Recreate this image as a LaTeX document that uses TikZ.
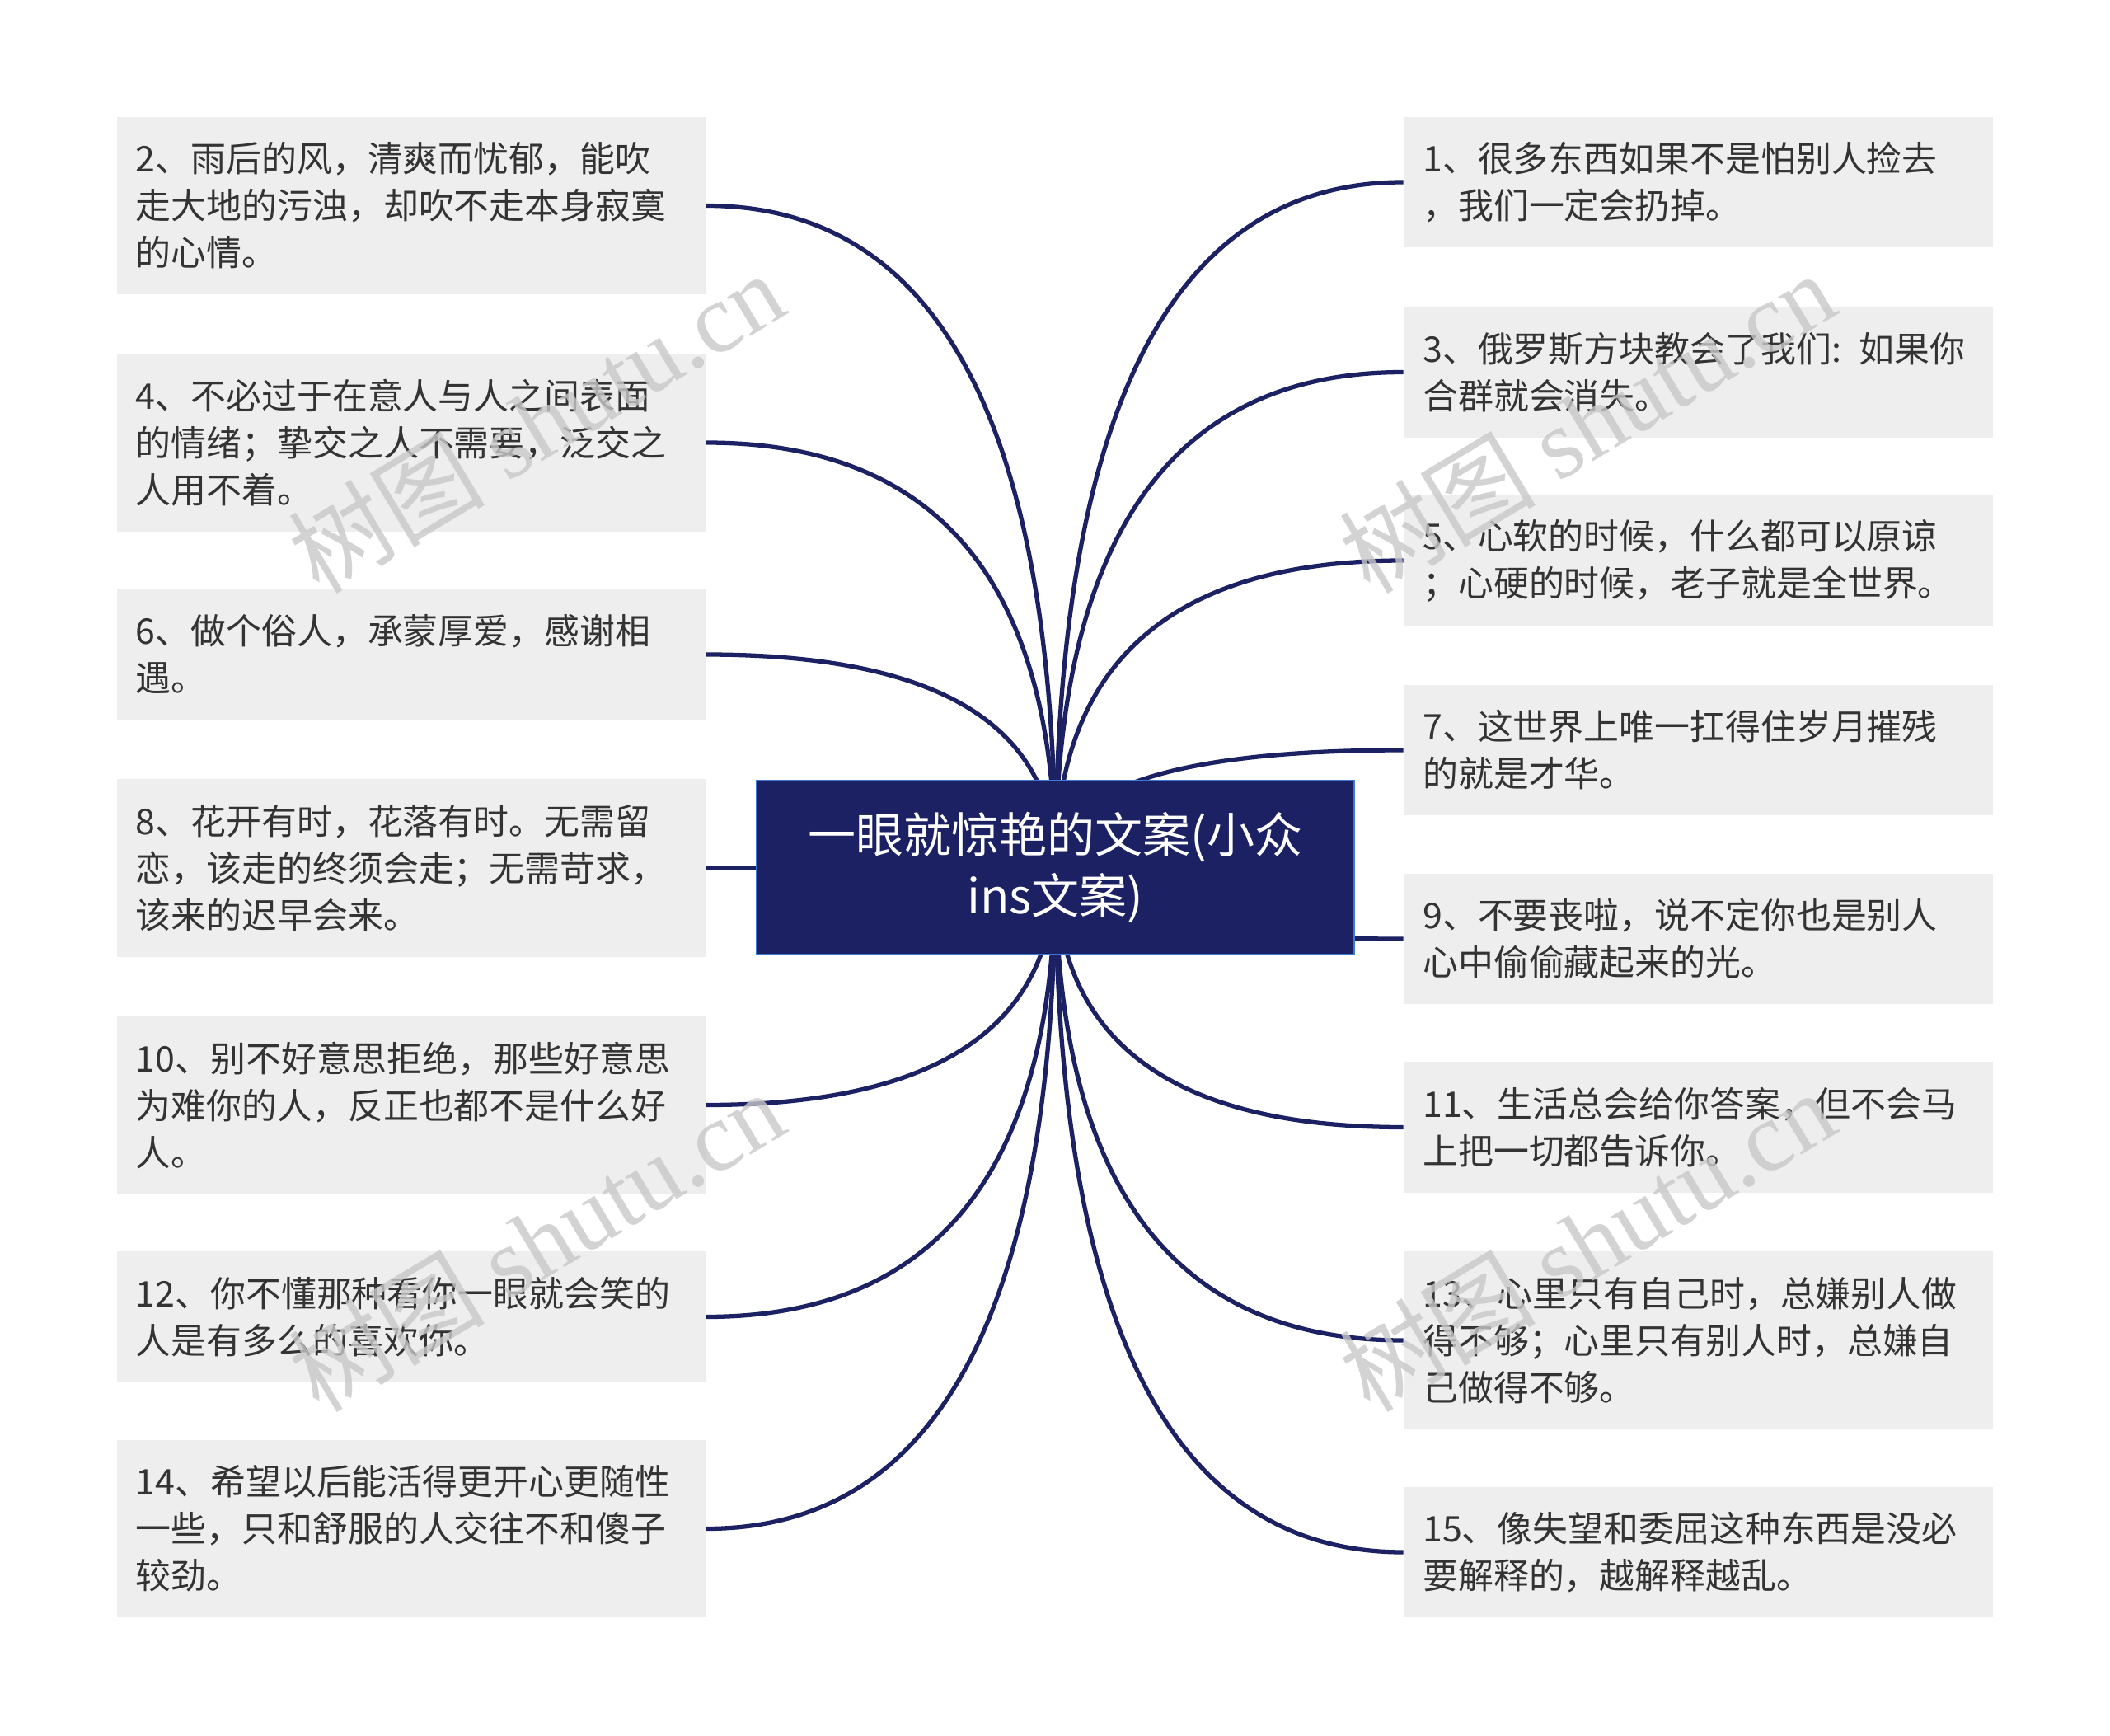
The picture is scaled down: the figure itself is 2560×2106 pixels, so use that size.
\documentclass[tikz,border=0pt]{standalone}
\usepackage{fontspec}
\setmainfont{Noto Sans CJK SC}
\newfontfamily\wmlatin{Liberation Serif}
\usetikzlibrary{calc,backgrounds}
\definecolor{navy}{HTML}{1B2163}
\definecolor{rootborder}{HTML}{3D78D8}
\definecolor{boxfill}{HTML}{EEEEEE}
\definecolor{txt}{HTML}{333333}
\definecolor{wmgray}{HTML}{C8C8C8}
\tikzset{
  leaf/.style={fill=boxfill, text=txt, text width=6.68cm, align=left,
    inner xsep=0.23cm, inner ysep=0pt, anchor=center,
    font=\fontsize{12.2pt}{16.2pt}\selectfont},
  tall/.style={minimum height=2.15cm},
  short/.style={minimum height=1.58cm},
  rootbox/.style={fill=navy, draw=rootborder, line width=0.7pt, text=white,
    minimum width=7.25cm, minimum height=2.11cm, align=center,
    font=\fontsize{16.5pt}{21.3pt}\selectfont},
  link/.style={draw=navy, line width=1.5pt},
  wm/.style={text=wmgray, opacity=0.8, rotate=31, inner sep=0pt,
    font=\fontsize{34pt}{40pt}\selectfont}
}
\newcommand\branchline[1]{%
  \draw[link] (root.center) .. controls ($(root.center)!0.6667!(root.center |- #1)$)
    and ($(#1)!0.6667!(root.center |- #1)$) .. (#1);}
\begin{document}
\begin{tikzpicture}[x=0.01cm,y=-0.01cm]
\useasboundingbox (0,0) rectangle (2560,2106);
\begin{scope}[on background layer]
  \fill[white] (0,0) rectangle (2560,2106);
\end{scope}

\node[rootbox] (root) at (1280.5,1052.5) {一眼就惊艳的文案(小众\\ins文案)};

% left side
\node[leaf,tall]  (b2)  at (499,249.5)  {2、雨后的风，清爽而忧郁，能吹\\走大地的污浊，却吹不走本身寂寞\\的心情。};
\node[leaf,tall]  (b4)  at (499,537)    {4、不必过于在意人与人之间表面\\的情绪；挚交之人不需要，泛交之\\人用不着。};
\node[leaf,short] (b6)  at (499,794)    {6、做个俗人，承蒙厚爱，感谢相\\遇。};
\node[leaf,tall]  (b8)  at (499,1053)   {8、花开有时，花落有时。无需留\\恋，该走的终须会走；无需苛求，\\该来的迟早会来。};
\node[leaf,tall]  (b10) at (499,1340.5) {10、别不好意思拒绝，那些好意思\\为难你的人，反正也都不是什么好\\人。};
\node[leaf,short] (b12) at (499,1597.5) {12、你不懂那种看你一眼就会笑的\\人是有多么的喜欢你。};
\node[leaf,tall]  (b14) at (499,1854.5) {14、希望以后能活得更开心更随性\\一些，只和舒服的人交往不和傻子\\较劲。};

% right side
\node[leaf,short] (b1)  at (2060.5,221)   {1、很多东西如果不是怕别人捡去\\，我们一定会扔掉。};
\node[leaf,short] (b3)  at (2060.5,451.5) {3、俄罗斯方块教会了我们: 如果你\\合群就会消失。};
\node[leaf,short] (b5)  at (2060.5,680)   {5、心软的时候，什么都可以原谅\\；心硬的时候，老子就是全世界。};
\node[leaf,short] (b7)  at (2060.5,910)   {7、这世界上唯一扛得住岁月摧残\\的就是才华。};
\node[leaf,short] (b9)  at (2060.5,1139)  {9、不要丧啦，说不定你也是别人\\心中偷偷藏起来的光。};
\node[leaf,short] (b11) at (2060.5,1367.5){11、生活总会给你答案，但不会马\\上把一切都告诉你。};
\node[leaf,tall]  (b13) at (2060.5,1626)  {13、心里只有自己时，总嫌别人做\\得不够；心里只有别人时，总嫌自\\己做得不够。};
\node[leaf,short] (b15) at (2060.5,1883)  {15、像失望和委屈这种东西是没必\\要解释的，越解释越乱。};

\begin{scope}[on background layer]
  \branchline{b2.east}
  \branchline{b4.east}
  \branchline{b6.east}
  \branchline{b8.east}
  \branchline{b10.east}
  \branchline{b12.east}
  \branchline{b14.east}
  \branchline{b1.west}
  \branchline{b3.west}
  \branchline{b5.west}
  \branchline{b7.west}
  \branchline{b9.west}
  \branchline{b11.west}
  \branchline{b13.west}
  \branchline{b15.west}
\end{scope}

% watermarks
\node[wm] (wm1) at (650,512)  {树图 {\wmlatin shutu.cn}};
\node[wm] (wm2) at (1925,512) {树图 {\wmlatin shutu.cn}};
\node[wm] (wm3) at (650,1505) {树图 {\wmlatin shutu.cn}};
\node[wm] (wm4) at (1925,1505){树图 {\wmlatin shutu.cn}};
\end{tikzpicture}
\end{document}
